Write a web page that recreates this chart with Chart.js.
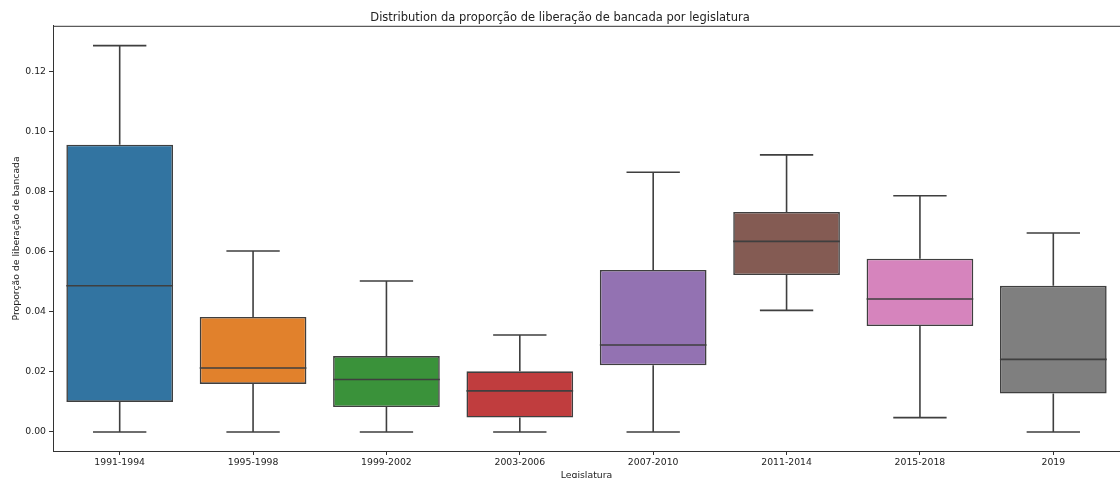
<!DOCTYPE html>
<html>
<head>
<meta charset="utf-8">
<script src="https://cdn.jsdelivr.net/npm/chart.js"></script>
<style>
  html, body { margin: 0; padding: 0; background: #fff; }
  #wrap { width: 1120px; height: 478px; }
</style>
</head>
<body>
<div id="wrap"><canvas id="boxChart"></canvas></div>
<script>
    // Box plot values per legislatura
    const legislaturas = ['1991-1994', '1995-1998', '1999-2002', '2003-2006', '2007-2010', '2011-2014', '2015-2018', '2019'];
    const whiskerLow  = [0.0,    0.0,    0.0,    0.0,    0.0,    0.0405, 0.0048, 0.0];
    const q1          = [0.0100, 0.0160, 0.0083, 0.0048, 0.0222, 0.0523, 0.0353, 0.0128];
    const median      = [0.0487, 0.0213, 0.0175, 0.0137, 0.0290, 0.0635, 0.0443, 0.0242];
    const q3          = [0.0957, 0.0383, 0.0253, 0.0202, 0.0540, 0.0733, 0.0577, 0.0487];
    const whiskerHigh = [0.1287, 0.0603, 0.0503, 0.0323, 0.0865, 0.0923, 0.0787, 0.0663];
    const yTicks = [0.00, 0.02, 0.04, 0.06, 0.08, 0.10, 0.12];

    const boxColors = ['#3274a1', '#e1812c', '#3a923a', '#c03d3e', '#9372b2', '#845b53', '#d684bd', '#7f7f7f'];
    const lineColor = '#3f3f3f';
    const textColor = '#222';
    const fontFamily = "'DejaVu Sans', sans-serif";

    // whiskers, caps and medians drawn on top of the floating bars
    const boxLines = {
        id: 'boxLines',
        afterDatasetsDraw(chart) {
            const { ctx, scales: { x, y } } = chart;
            const meta = chart.getDatasetMeta(0);
            ctx.save();
            ctx.strokeStyle = lineColor;
            ctx.lineWidth = 1.6;
            meta.data.forEach((bar, i) => {
                const cx = x.getPixelForValue(i);
                const half = bar.width / 2;
                const cap = half / 2;
                ctx.beginPath();
                // upper whisker
                ctx.moveTo(cx, y.getPixelForValue(q3[i]));
                ctx.lineTo(cx, y.getPixelForValue(whiskerHigh[i]));
                ctx.moveTo(cx - cap, y.getPixelForValue(whiskerHigh[i]));
                ctx.lineTo(cx + cap, y.getPixelForValue(whiskerHigh[i]));
                // lower whisker
                ctx.moveTo(cx, y.getPixelForValue(q1[i]));
                ctx.lineTo(cx, y.getPixelForValue(whiskerLow[i]));
                ctx.moveTo(cx - cap, y.getPixelForValue(whiskerLow[i]));
                ctx.lineTo(cx + cap, y.getPixelForValue(whiskerLow[i]));
                // median
                ctx.moveTo(cx - half, y.getPixelForValue(median[i]));
                ctx.lineTo(cx + half, y.getPixelForValue(median[i]));
                ctx.stroke();
            });
            ctx.restore();
        }
    };

    // full frame round the plot area (matplotlib spines)
    const frame = {
        id: 'frame',
        afterDraw(chart) {
            const { ctx, chartArea: a } = chart;
            ctx.save();
            ctx.strokeStyle = '#333';
            ctx.lineWidth = 1;
            ctx.strokeRect(a.left + 0.5, a.top + 0.5, a.right - a.left, a.bottom - a.top);
            ctx.restore();
        }
    };

    const boxData = {
        labels: legislaturas,
        datasets: [{
            label: 'Proporção',
            data: q1.map((v, i) => [v, q3[i]]),
            backgroundColor: boxColors,
            borderColor: lineColor,
            borderWidth: 1.6,
            borderSkipped: false,
            categoryPercentage: 0.8,
            barPercentage: 1.0
        }]
    };

    const boxConfig = {
        type: 'bar',
        data: boxData,
        plugins: [boxLines, frame],
        options: {
            responsive: true,
            maintainAspectRatio: false,
            animation: false,
            layout: { padding: { left: 0, right: 0, top: 0, bottom: 0 } },
            scales: {
                x: {
                    offset: true,
                    grid: { display: true, offset: false, drawOnChartArea: false, drawTicks: true, tickLength: 4, color: '#333' },
                    border: { display: true, color: '#333' },
                    ticks: { color: textColor, padding: 2, font: { family: fontFamily, size: 9.3 } },
                    title: {
                        display: true,
                        text: 'Legislatura',
                        color: textColor,
                        font: { family: fontFamily, size: 9.3 },
                        padding: { top: 0, bottom: -3 }
                    },
                    afterFit(scale) { scale.height = 27; }
                },
                y: {
                    min: -0.00633,
                    max: 0.1353,
                    afterBuildTicks(scale) { scale.ticks = yTicks.map(v => ({ value: v })); },
                    grid: { display: true, drawOnChartArea: false, drawTicks: true, tickLength: 4, color: '#333' },
                    border: { display: true, color: '#333' },
                    ticks: {
                        color: textColor,
                        padding: 3,
                        font: { family: fontFamily, size: 9.3 },
                        callback: v => Number(v).toFixed(2)
                    },
                    title: {
                        display: true,
                        text: 'Proporção de liberação de bancada',
                        color: textColor,
                        font: { family: fontFamily, size: 9.3 },
                        padding: { top: 11, bottom: 0 }
                    },
                    afterFit(scale) { scale.width = 53; }
                }
            },
            plugins: {
                legend: { display: false },
                tooltip: { enabled: false },
                title: {
                    display: true,
                    text: 'Distribution da proporção de liberação de bancada por legislatura',
                    color: textColor,
                    font: { family: fontFamily, size: 11.5, weight: 'normal' },
                    padding: { top: 11, bottom: 1 }
                }
            }
        }
    };

    const boxChart = new Chart(
        document.getElementById('boxChart'),
        boxConfig
    );
</script>
</body>
</html>
